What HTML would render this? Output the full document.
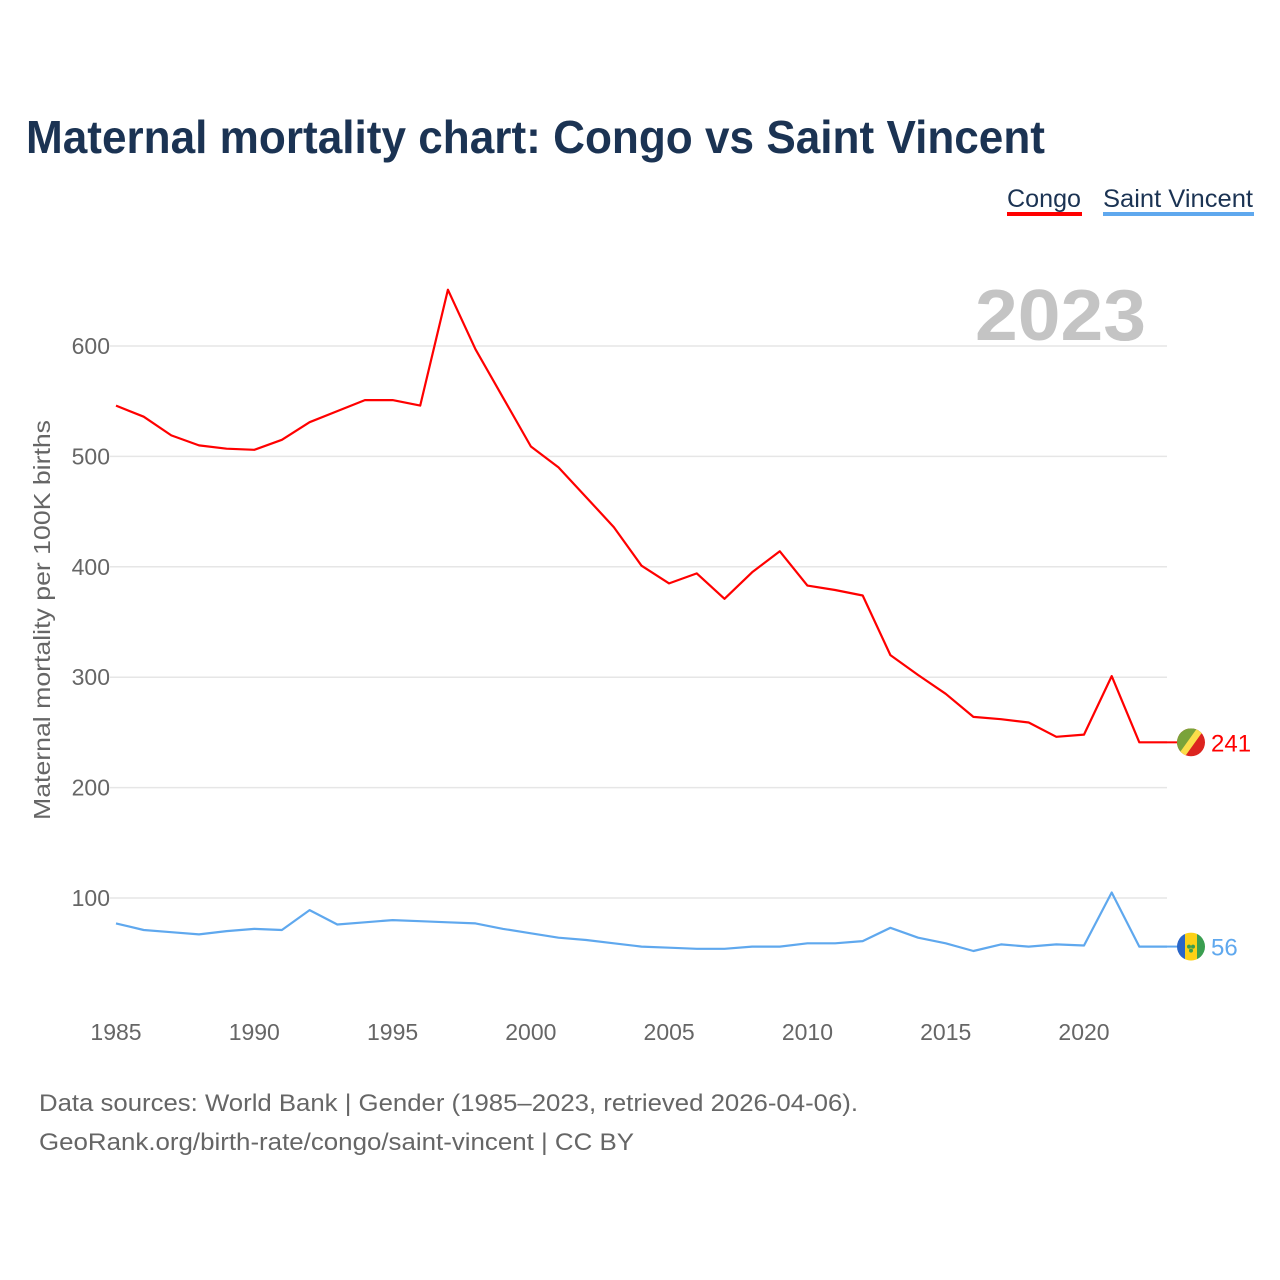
<!DOCTYPE html>
<html><head><meta charset="utf-8"><style>
body{margin:0;background:#fff;font-family:"Liberation Sans",sans-serif;}
#wrap{position:relative;width:1280px;height:1280px;overflow:hidden;}
</style></head><body>
<div id="wrap">
<svg id="chart" width="1280" height="1280"></svg>
</div>
<script>
const years=[1985,1986,1987,1988,1989,1990,1991,1992,1993,1994,1995,1996,1997,1998,1999,2000,2001,2002,2003,2004,2005,2006,2007,2008,2009,2010,2011,2012,2013,2014,2015,2016,2017,2018,2019,2020,2021,2022,2023];
const congo=[546,536,519,510,507,506,515,531,541,551,551,546,651,597,553,509,490,463,436,401,385,394,371,395,414,383,379,374,320,302,285,264,262,259,246,248,301,241,241];
const saintVincent=[77,71,69,67,70,72,71,89,76,78,80,79,78,77,72,68,64,62,59,56,55,54,54,56,56,59,59,61,73,64,59,52,58,56,58,57,105,56,56];
const yTicks=[100,200,300,400,500,600];
const xTicks=[1985,1990,1995,2000,2005,2010,2015,2020];

const NS="http://www.w3.org/2000/svg";
const svg=document.getElementById('chart');
const X=v=>116+(v-1985)*(968/35);
const Y=v=>1008.4-v*1.104;
function mk(tag,attrs,text){const e=document.createElementNS(NS,tag);for(const k in attrs)e.setAttribute(k,attrs[k]);if(text!==undefined)e.textContent=text;svg.appendChild(e);return e;}

let t=mk('text',{x:26,y:153,'font-size':46,'font-weight':'bold',fill:'#1b3353',textLength:1019,lengthAdjust:'spacingAndGlyphs'},'Maternal mortality chart: Congo vs Saint Vincent');


t=mk('text',{x:1007,y:207,'font-size':25,fill:'#1b3353',textLength:74,lengthAdjust:'spacingAndGlyphs'},'Congo');

let r=mk('rect',{x:1007,y:212,width:75,height:4,fill:'#ff0000'});

t=mk('text',{x:1103,y:207,'font-size':25,fill:'#1b3353',textLength:150,lengthAdjust:'spacingAndGlyphs'},'Saint Vincent');

r=mk('rect',{x:1103,y:212,width:151,height:4,fill:'#5fa8ee'});


t=mk('text',{x:975,y:340,'font-size':72,'font-weight':'bold',fill:'#c4c4c4',textLength:171,lengthAdjust:'spacingAndGlyphs'},'2023');


yTicks.forEach(v=>{
  const g=mk('line',{x1:110,x2:1167,y1:Y(v),y2:Y(v),stroke:'#e6e6e6','stroke-width':1.5});
  
  const l=mk('text',{x:110,y:Y(v)+8,'font-size':23,fill:'#666','text-anchor':'end'},String(v));
  
});
xTicks.forEach(v=>{
  const l=mk('text',{x:X(v),y:1040,'font-size':23,fill:'#666','text-anchor':'middle'},String(v));
  
});
t=mk('text',{x:0,y:0,'font-size':23,fill:'#666','text-anchor':'middle',textLength:400,lengthAdjust:'spacingAndGlyphs',transform:'translate(50,620) rotate(-90)'},'Maternal mortality per 100K births');


function line(vals,color,name){
  const d=vals.map((v,i)=>(i?'L':'M')+X(years[i]).toFixed(1)+' '+Y(v).toFixed(1)).join(' ');
  const p=mk('path',{d:d,fill:'none',stroke:color,'stroke-width':2.2,'stroke-linejoin':'round'});
  
}
line(congo,'#ff0000','congo-line');
line(saintVincent,'#5fa8ee','saint-vincent-line');

const lc=congo[congo.length-1], ls=saintVincent[saintVincent.length-1];
const xe=X(years[years.length-1]);
let e=mk('line',{x1:xe,x2:xe+14,y1:Y(lc),y2:Y(lc),stroke:'#ff0000','stroke-width':2});

e=mk('line',{x1:xe,x2:xe+14,y1:Y(ls),y2:Y(ls),stroke:'#5fa8ee','stroke-width':2});

const cx=1191,cyC=Y(lc);
mk('defs',{}).innerHTML='<clipPath id="cc"><circle cx="'+cx+'" cy="'+cyC+'" r="14"/></clipPath><clipPath id="cs"><circle cx="'+cx+'" cy="'+Y(ls)+'" r="14"/></clipPath>';
const fg=mk('g',{'clip-path':'url(#cc)'});

fg.innerHTML='<rect x="'+(cx-14)+'" y="'+(cyC-14)+'" width="28" height="28" fill="#dc241f"/><polygon points="'+(cx-14)+','+(cyC-14)+' '+(cx+14)+','+(cyC-14)+' '+(cx-14)+','+(cyC+14)+'" fill="#7aa33a"/><polygon points="'+(cx+6)+','+(cyC-14)+' '+(cx+14)+','+(cyC-14)+' '+(cx-6)+','+(cyC+14)+' '+(cx-14)+','+(cyC+14)+'" fill="#fbde4a"/>';
const cyS=Y(ls);
const sg=mk('g',{'clip-path':'url(#cs)'});

sg.innerHTML='<rect x="'+(cx-14)+'" y="'+(cyS-14)+'" width="8" height="28" fill="#2a66c8"/><rect x="'+(cx-6)+'" y="'+(cyS-14)+'" width="12" height="28" fill="#fcd116"/><rect x="'+(cx+6)+'" y="'+(cyS-14)+'" width="8" height="28" fill="#3a9e50"/><circle cx="'+(cx-2)+'" cy="'+cyS+'" r="2" fill="#3a9e50"/><circle cx="'+(cx+2)+'" cy="'+cyS+'" r="2" fill="#3a9e50"/><circle cx="'+cx+'" cy="'+(cyS+4)+'" r="2" fill="#3a9e50"/>';
t=mk('text',{x:1211,y:Y(lc)+9,'font-size':24,fill:'#ff0000'},String(lc));

t=mk('text',{x:1211,y:Y(ls)+9,'font-size':24,fill:'#5fa8ee'},String(ls));


t=mk('text',{x:39,y:1111,'font-size':24,fill:'#666',textLength:819,lengthAdjust:'spacingAndGlyphs'},'Data sources: World Bank | Gender (1985–2023, retrieved 2026-04-06).');

t=mk('text',{x:39,y:1150,'font-size':24,fill:'#666',textLength:595,lengthAdjust:'spacingAndGlyphs'},'GeoRank.org/birth-rate/congo/saint-vincent | CC BY');

</script>
</body></html>
